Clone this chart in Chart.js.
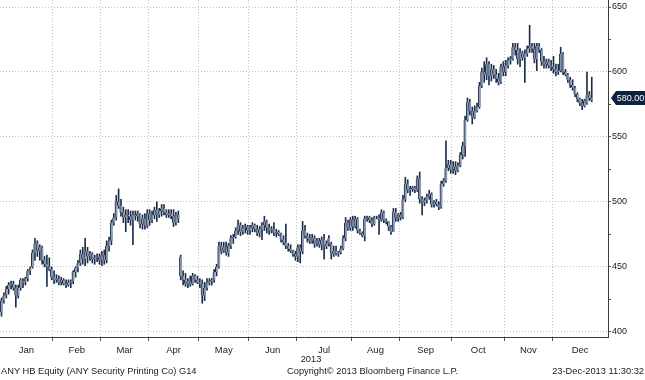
<!DOCTYPE html>
<html>
<head>
<meta charset="utf-8">
<script src="https://cdn.jsdelivr.net/npm/chart.js@4.4.1/dist/chart.umd.min.js"></script>
<style>
html, body { margin: 0; padding: 0; background: #fff; }
#wrap { position: relative; width: 645px; height: 380px; overflow: hidden; }
#chart { position: absolute; left: 0; top: 0; }
.txt { position: absolute; font-family: "Liberation Sans", Arial, sans-serif; font-size: 9.3px; line-height: 1; color: #1a1a1a; white-space: nowrap; }
</style>
</head>
<body>
<div id="wrap">
  <canvas id="chart" width="645" height="380"></canvas>
  <div class="txt" id="year" style="left:311px; top:355px; transform:translateX(-50%);">2013</div>
  <div class="txt" style="left:1px; top:367px;">ANY HB Equity (ANY Security Printing Co) G14</div>
  <div class="txt" style="left:287px; top:367px;">Copyright© 2013 Bloomberg Finance L.P.</div>
  <div class="txt" style="right:1px; top:367px;">23-Dec-2013 11:30:32</div>
</div>
<script>
/* ANY HB daily candles, 2013 (one value per trading day) */
const months = ["Jan", "Feb", "Mar", "Apr", "May", "Jun", "Jul", "Aug", "Sep", "Oct", "Nov", "Dec"];
// index of the first trading day of each month
const monthStarts = [0, 22, 42, 62, 83, 104, 124, 147, 167, 189, 211, 231];

const openPx = [
  415,424,428,433,436,437,434,428,434,438,439,441,447,450,461,468,462,465,455,452,450,448,
  442,440,441,438,440,437,436,438,439,446,449,453,460,456,462,458,460,456,457,458,
  455,459,455,466,470,484,488,500,497,492,488,490,489,486,490,489,491,483,487,482,
  491,486,490,494,490,493,495,492,490,491,489,484,490,458,443,440,437,439,437,443,440,
  438,437,428,434,438,439,440,446,450,466,462,465,461,466,472,473,478,482,477,480,481,
  478,480,482,479,476,479,482,485,480,478,479,476,477,475,471,469,466,464,462,460,
  458,465,462,478,474,472,470,472,468,470,467,471,466,468,468,460,462,460,461,464,472,484,480,
  486,481,487,478,476,474,487,488,486,483,488,488,486,492,486,485,481,477,492,488,
  490,488,502,514,509,510,511,509,518,502,500,501,504,506,498,500,498,496,514,516,526,529,
  525,527,524,528,536,543,563,577,570,565,570,573,589,600,598,606,597,602,598,595,592,604,
  600,605,609,610,619,617,610,615,611,614,618,620,618,610,620,617,608,606,608,605,
  604,602,600,601,614,600,598,594,590,588,583,579,576,574,576,582,578
];
const highPx = [
  426,430,435,438,439,439,436,436,441,441,442,448,450,463,472,470,467,466,458,459,457,450,
  447,444,443,442,441,440,440,440,447,450,455,463,465,472,465,462,461,459,460,460,
  462,463,470,473,486,491,505,510,502,496,494,494,493,493,493,493,491,490,491,494,
  494,493,496,500,495,498,498,494,494,494,494,492,493,459,447,445,441,443,445,444,443,
  441,440,438,441,441,441,448,452,469,469,469,469,468,474,475,480,486,484,482,483,482,
  482,484,483,482,481,484,489,486,483,481,484,479,478,476,474,483,468,467,463,462,
  467,467,485,482,476,475,475,474,472,472,473,475,470,474,469,466,466,462,466,474,488,486,488,
  489,489,488,479,477,489,489,489,488,489,489,490,494,493,487,485,482,495,495,491,
  492,505,519,517,512,512,512,520,523,504,503,506,509,507,501,502,500,516,518,547,532,532,
  531,531,530,538,546,566,580,579,573,574,576,592,603,608,611,608,606,605,602,599,606,608,
  609,611,612,622,622,622,618,616,617,620,636,622,622,622,622,618,612,610,610,609,
  612,606,606,619,615,602,599,596,594,589,584,580,579,579,600,585,596
];
const lowPx = [
  412,422,426,429,433,432,419,426,432,434,436,439,444,449,455,458,455,452,450,435,447,440,
  437,438,436,436,436,434,435,434,437,442,446,451,452,451,453,455,453,452,454,452,
  451,452,453,462,467,482,486,495,489,484,477,484,482,467,486,485,480,479,479,480,
  482,484,487,485,488,489,490,488,488,487,481,482,484,440,436,435,434,435,436,438,437,
  434,422,424,432,436,436,438,443,449,460,461,459,458,464,468,472,475,474,475,476,475,
  475,477,477,474,473,471,478,476,475,476,474,473,474,469,467,464,462,461,458,455,
  454,453,460,472,469,468,468,465,466,465,463,456,464,466,456,458,459,458,460,463,470,478,478,
  478,480,476,475,473,470,485,484,481,482,487,475,485,484,483,478,475,477,485,485,
  486,487,500,507,505,508,507,508,499,490,497,499,502,496,496,497,494,495,512,515,524,522,
  522,521,523,527,533,535,562,567,560,564,569,572,588,592,594,590,593,595,592,590,591,597,
  597,603,606,609,613,606,604,609,592,612,615,615,607,601,615,605,603,603,603,601,
  599,597,598,600,598,597,592,588,586,581,577,574,571,573,575,578,577
];
const closePx = [
  424,428,433,436,437,434,428,434,440,439,441,447,449,461,468,462,465,455,452,450,448,442,
  440,441,438,440,437,436,438,439,446,449,453,460,456,462,458,460,456,457,458,455,
  459,455,466,470,484,488,500,497,492,488,490,489,486,490,489,491,483,487,482,491,
  486,490,494,490,493,495,492,490,491,489,484,490,487,443,440,437,439,437,443,440,438,
  437,428,434,438,439,440,446,450,466,462,465,461,466,472,473,478,482,477,480,481,478,
  480,482,479,476,479,482,485,480,478,479,476,477,475,471,469,466,464,462,460,458,
  465,462,478,474,472,470,472,468,470,467,471,466,468,472,460,462,460,461,464,472,484,480,486,
  481,487,478,476,474,487,488,486,483,488,488,486,492,486,485,481,477,492,488,490,
  488,502,514,509,510,511,509,518,502,500,501,504,506,498,500,498,496,514,516,526,529,525,
  527,524,528,536,543,563,577,570,565,570,573,589,600,598,606,597,602,598,595,592,604,600,
  605,609,610,619,617,610,615,611,614,618,620,618,610,620,617,608,606,608,605,604,
  602,600,601,614,600,598,594,590,588,583,579,576,574,578,582,580,580
];

const FONT = '"Liberation Sans", Arial, sans-serif';
const xMin = -0.63, xMax = 253.8;
const candleDark = "#1e2e49";

const bodies = openPx.map((o, i) => ({ x: i, y: [o, closePx[i]] }));
const ranges = lowPx.map((l, i) => ({ x: i, y: [l, highPx[i]] }));

// last price tag on the right axis
const lastTag = {
  id: "lastTag",
  afterDraw(chart) {
    const { ctx, chartArea } = chart;
    const y = chart.scales.y;
    const v = closePx[closePx.length - 1];
    const py = Math.round(y.getPixelForValue(v));
    const x0 = chartArea.right + 3, x1 = chart.width, h = 14;
    ctx.save();
    ctx.fillStyle = "#0e213d";
    ctx.beginPath();
    ctx.moveTo(x0, py);
    ctx.lineTo(x0 + 5, py - h / 2);
    ctx.lineTo(x1, py - h / 2);
    ctx.lineTo(x1, py + h / 2);
    ctx.lineTo(x0 + 5, py + h / 2);
    ctx.closePath();
    ctx.fill();
    ctx.fillStyle = "#fff";
    ctx.font = "9px " + FONT;
    ctx.textAlign = "center";
    ctx.textBaseline = "middle";
    ctx.fillText(v.toFixed(2), (x0 + 5 + x1) / 2, py + 0.5);
    ctx.restore();
  }
};

new Chart(document.getElementById("chart"), {
  type: "bar",
  data: {
    datasets: [
      {
        label: "body",
        data: bodies,
        backgroundColor: "#8a99b0",
        borderColor: candleDark,
        borderWidth: { left: 1, right: 0, top: 0, bottom: 0 },
        borderSkipped: false,
        barThickness: 2.6,
        grouped: false
      },
      {
        label: "range",
        data: ranges,
        backgroundColor: candleDark,
        barThickness: 1,
        grouped: false
      }
    ]
  },
  options: {
    responsive: false,
    animation: false,
    layout: { padding: 0 },
    plugins: { legend: { display: false }, tooltip: { enabled: false } },
    scales: {
      x: {
        type: "linear",
        min: xMin,
        max: xMax,
        offset: false,
        afterBuildTicks: scale => {
          const edges = monthStarts.slice(1).map(i => ({ value: i - 0.5, edge: true }));
          const mids = months.map((m, k) => {
            const a = k === 0 ? xMin : monthStarts[k] - 0.5;
            const b = k < months.length - 1 ? monthStarts[k + 1] - 0.5 : xMax;
            return { value: (a + b) / 2, name: m };
          });
          scale.ticks = edges.concat(mids);
        },
        afterFit: scale => {
          scale.height = 43;
          scale.paddingLeft = 0;
          scale.paddingRight = 0;
        },
        ticks: {
          autoSkip: false,
          maxRotation: 0,
          padding: 4,
          color: "#1a1a1a",
          font: { family: FONT, size: 9.5 },
          callback: (v, idx, ticks) => ticks[idx].name || ""
        },
        grid: {
          offset: false,
          color: c => (c.tick && c.tick.edge ? "#c4c4c4" : "rgba(0,0,0,0)"),
          tickColor: c => (c.tick && c.tick.edge ? "#555" : "rgba(0,0,0,0)"),
          tickLength: 4
        },
        border: { color: "#3c3c3c", dash: [1, 2] }
      },
      y: {
        position: "right",
        min: 396,
        max: 655.4,
        afterFit: scale => {
          scale.width = 37;
          scale.paddingTop = 0;
          scale.paddingBottom = 0;
        },
        ticks: {
          stepSize: 25,
          includeBounds: false,
          padding: 1,
          color: "#1a1a1a",
          font: { family: FONT, size: 9 },
          callback: v => (v % 50 === 0 ? v : "")
        },
        grid: {
          color: c => (c.tick && c.tick.value % 50 === 0 ? "#c4c4c4" : "rgba(0,0,0,0)"),
          tickColor: "#555",
          tickLength: 3
        },
        border: { color: "#3c3c3c", dash: [1, 2] }
      }
    }
  },
  plugins: [lastTag]
});
</script>
</body>
</html>
